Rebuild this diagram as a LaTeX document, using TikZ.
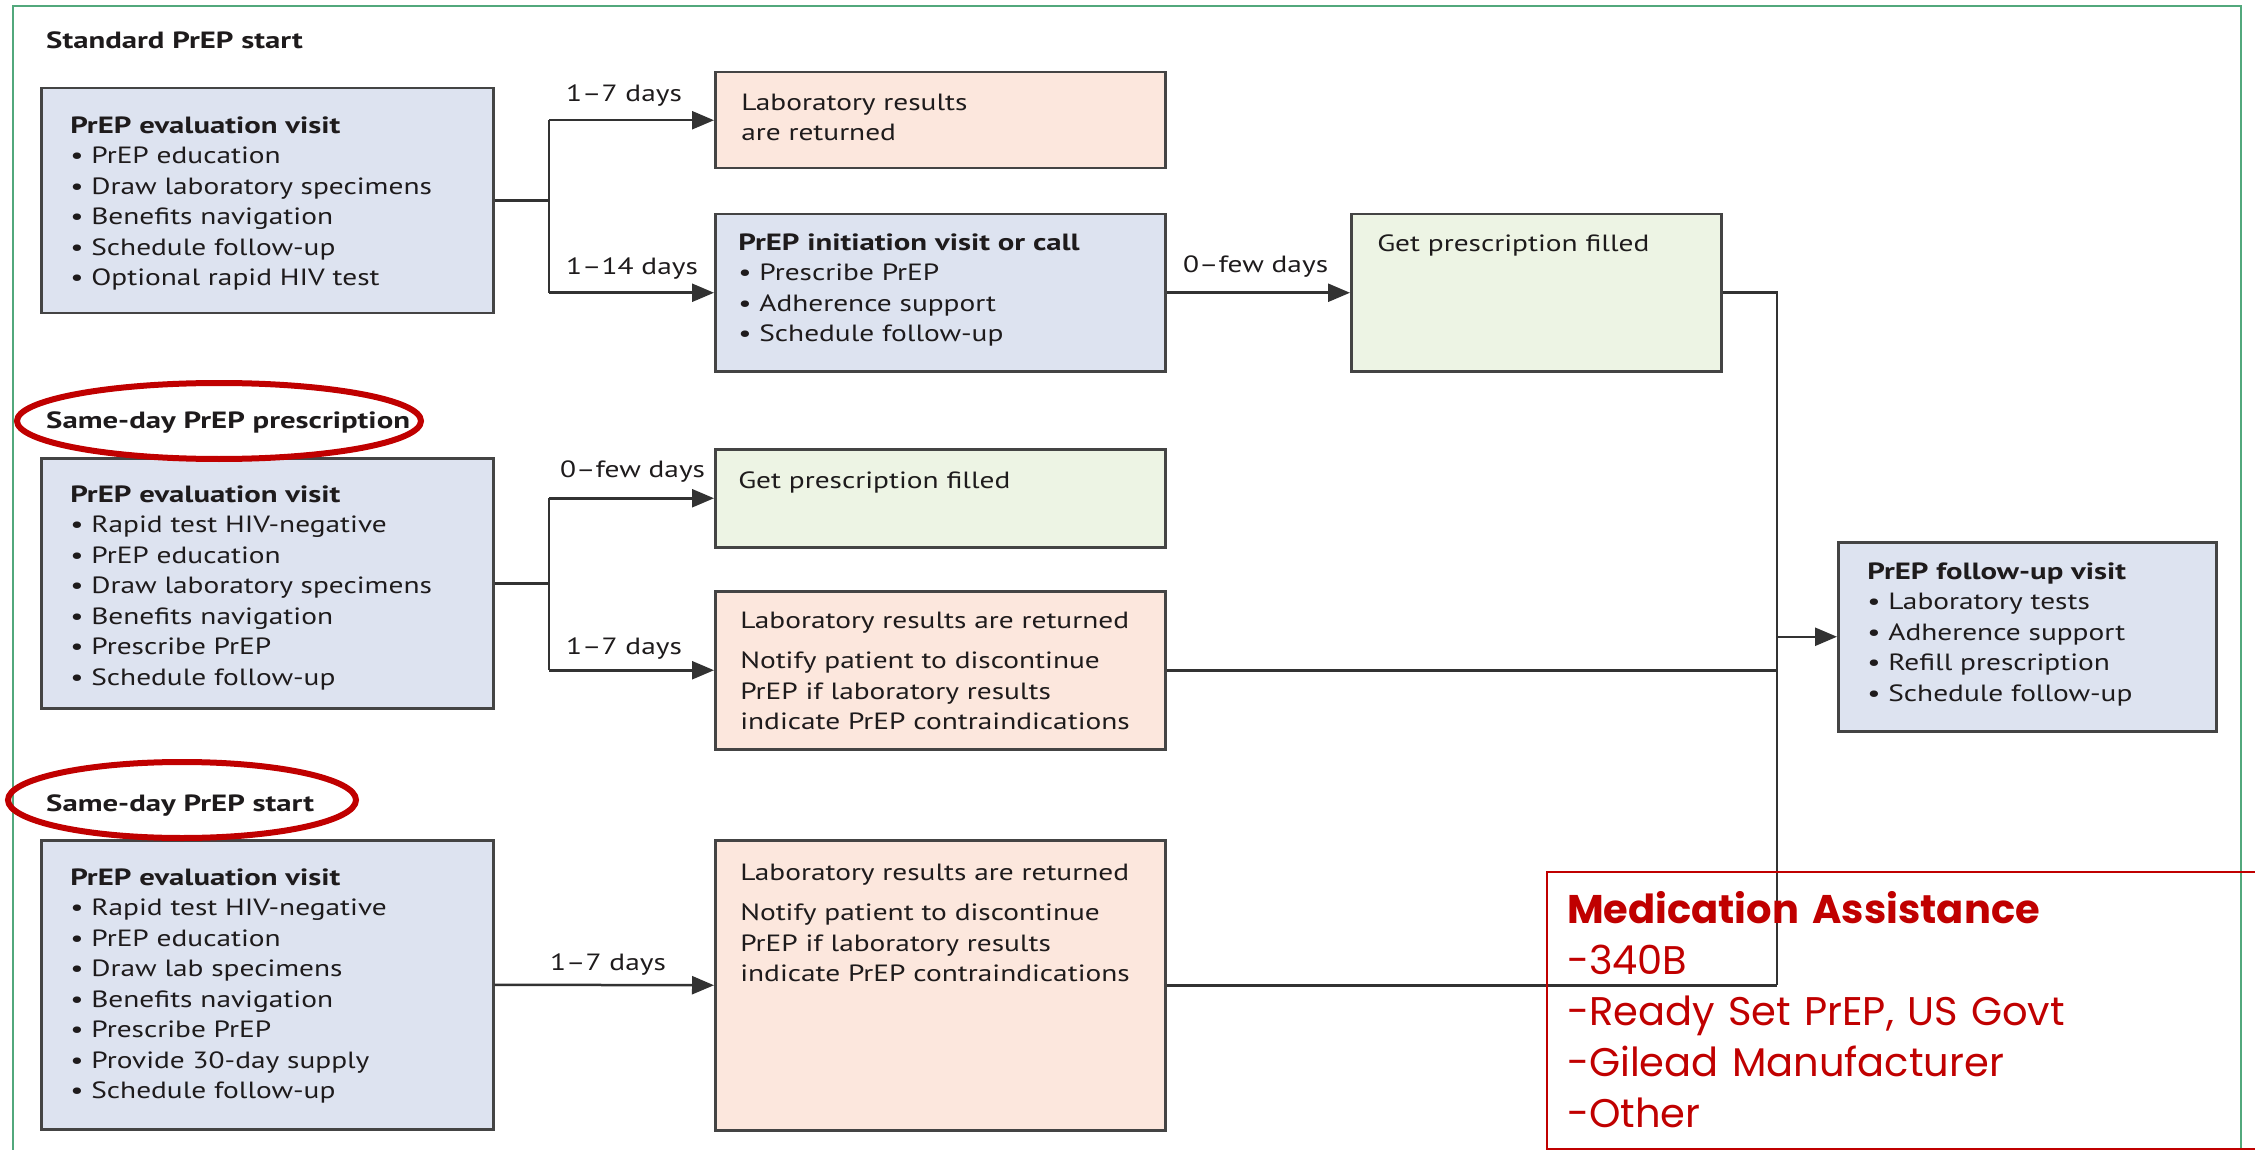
\documentclass[tikz,border=0pt]{standalone}
\usepackage{fontspec}
\setmainfont{PT Sans}[FakeStretch=1.25, BoldFeatures={FakeStretch=1.31}]
\newfontfamily\gothic{Poppins}
\usetikzlibrary{arrows.meta}

\definecolor{frameGreen}{RGB}{82,168,124}
\definecolor{fillBlue}{RGB}{221,227,240}
\definecolor{fillPeach}{RGB}{252,231,221}
\definecolor{fillGreen}{RGB}{237,244,228}
\definecolor{edgeGray}{RGB}{68,68,68}
\definecolor{lineGray}{RGB}{50,50,50}
\definecolor{inkDark}{RGB}{30,27,28}
\definecolor{markRed}{RGB}{192,0,0}

\newcommand{\bodyfont}{\fontsize{23.5}{30.5}\selectfont}
\newcommand{\bul}{\textbullet\ }

\tikzset{
  panel/.style={draw=edgeGray, line width=2.5pt, inner xsep=0pt, inner ysep=0pt,
    anchor=north west, align=left, font=\bodyfont, text=inkDark},
  bluepanel/.style={panel, fill=fillBlue},
  peachpanel/.style={panel, fill=fillPeach},
  greenpanel/.style={panel, fill=fillGreen},
  sectiontitle/.style={anchor=base west, inner sep=0pt, font=\bodyfont\bfseries, text=inkDark},
  daylabel/.style={anchor=base west, inner sep=0pt, font=\bodyfont, text=inkDark},
  conn/.style={draw=lineGray, line width=2.5pt},
  arr/.style={conn, -{Triangle[length=22pt, width=18pt]}},
  ring/.style={draw=markRed, line width=6pt},
}

\begin{document}
\begin{tikzpicture}[x=1pt, y=-1pt]
\useasboundingbox (0,0) rectangle (2255,1150);

% outer frame
\draw[frameGreen, line width=2pt] (13,1170) -- (13,6) -- (2241,6) -- (2241,1170);

% ---------- Standard PrEP start ----------
\node[sectiontitle] (t1) at (46,49) {Standard PrEP start};

\node[bluepanel, text width=452pt, text height=45pt, text depth=180pt] (a1) at (40,87)
  {\leftskip=29pt\relax\textbf{PrEP evaluation visit}\\
   \bul PrEP education\\
   \bul Draw laboratory specimens\\
   \bul Benefits navigation\\
   \bul Schedule follow-up\\
   \bul Optional rapid HIV test\par};

\node[peachpanel, text width=450pt, text height=38pt, text depth=58pt] (a2) at (714,71)
  {\leftskip=26pt\relax Laboratory results\\ are returned\par};

\node[bluepanel, text width=450pt, text height=36pt, text depth=121pt] (a3) at (714,213)
  {\leftskip=23pt\relax\textbf{PrEP initiation visit or call}\\
   \bul Prescribe PrEP\\
   \bul Adherence support\\
   \bul Schedule follow-up\par};

\node[greenpanel, text width=370pt, text height=37pt, text depth=120pt] (a4) at (1350,213)
  {\leftskip=26pt\relax Get prescription filled\par};

% ---------- follow-up ----------
\node[bluepanel, text width=378pt, text height=37pt, text depth=152pt] (fu) at (1837,541)
  {\leftskip=29pt\relax\textbf{PrEP follow-up visit}\\
   \bul Laboratory tests\\
   \bul Adherence support\\
   \bul Refill prescription\\
   \bul Schedule follow-up\par};

% ---------- Same-day PrEP prescription ----------
\node[sectiontitle] (t2) at (46,428) {Same-day PrEP prescription};

\node[bluepanel, text width=452pt, text height=44pt, text depth=206pt] (b1) at (40,457)
  {\leftskip=29pt\relax\textbf{PrEP evaluation visit}\\
   \bul Rapid test HIV-negative\\
   \bul PrEP education\\
   \bul Draw laboratory specimens\\
   \bul Benefits navigation\\
   \bul Prescribe PrEP\\
   \bul Schedule follow-up\par};

\node[greenpanel, text width=450pt, text height=39pt, text depth=59pt] (b2) at (714,448)
  {\leftskip=23pt\relax Get prescription filled\par};

\node[peachpanel, text width=450pt, text height=37pt, text depth=121pt] (b3) at (714,590)
  {\leftskip=25pt\relax Laboratory results are returned\\[10pt]
   Notify patient to discontinue\\
   PrEP if laboratory results\\
   indicate PrEP contraindications\par};

% ---------- Same-day PrEP start ----------
\node[sectiontitle] (t3) at (46,811) {Same-day PrEP start};

\node[bluepanel, text width=452pt, text height=45pt, text depth=244pt] (c1) at (40,839)
  {\leftskip=29pt\relax\textbf{PrEP evaluation visit}\\
   \bul Rapid test HIV-negative\\
   \bul PrEP education\\
   \bul Draw lab specimens\\
   \bul Benefits navigation\\
   \bul Prescribe PrEP\\
   \bul Provide 30-day supply\\
   \bul Schedule follow-up\par};

\node[peachpanel, text width=450pt, text height=40pt, text depth=250pt] (c3) at (714,839)
  {\leftskip=25pt\relax Laboratory results are returned\\[10pt]
   Notify patient to discontinue\\
   PrEP if laboratory results\\
   indicate PrEP contraindications\par};

% ---------- connectors ----------
\coordinate (fork) at (549,0);
\coordinate (merge) at (1777,0);

\draw[conn] (a1.east) -- (a1.east -| fork);
\draw[arr] (a2.west -| fork) -- (a2.west);
\draw[arr] (a3.west -| fork) -- (a3.west);
\draw[conn] (a2.west -| fork) -- (a3.west -| fork);
\draw[arr] (a3.east) -- (a4.west);

\draw[conn] (b1.east) -- (b1.east -| fork);
\draw[arr] (b2.west -| fork) -- (b2.west);
\draw[arr] (b3.west -| fork) -- (b3.west);
\draw[conn] (b2.west -| fork) -- (b3.west -| fork);

\draw[arr] (c1.east) -- (c3.west);

\draw[conn] (a4.east) -| (c3.east -| merge);
\draw[conn] (b3.east) -- (b3.east -| merge);
\draw[conn] (c3.east) -- (c3.east -| merge);
\draw[arr] (fu.west -| merge) -- (fu.west);

% interval labels
\node[daylabel] (d1) at (566,102) {1--7 days};
\node[daylabel] (d2) at (566,275) {1--14 days};
\node[daylabel] (d3) at (1183,273) {0--few days};
\node[daylabel] (d4) at (560,477) {0--few days};
\node[daylabel] (d5) at (566,654) {1--7 days};
\node[daylabel] (d6) at (550,970) {1--7 days};

% highlight rings
\draw[ring] (219,421) ellipse [x radius=202pt, y radius=38pt];
\draw[ring] (182,800) ellipse [x radius=174pt, y radius=38pt];

% medication assistance call-out
\node[draw=markRed, line width=2pt, inner sep=0pt, anchor=north west, align=left,
      text width=712pt, text height=51pt, text depth=226pt, text=markRed,
      font=\gothic\fontsize{40}{51}\selectfont] (med) at (1546,871)
  {\leftskip=20pt\relax\textbf{Medication Assistance}\\
   -340B\\
   -Ready Set PrEP, US Govt\\
   -Gilead Manufacturer\\
   -Other\par};
\end{tikzpicture}
\end{document}
